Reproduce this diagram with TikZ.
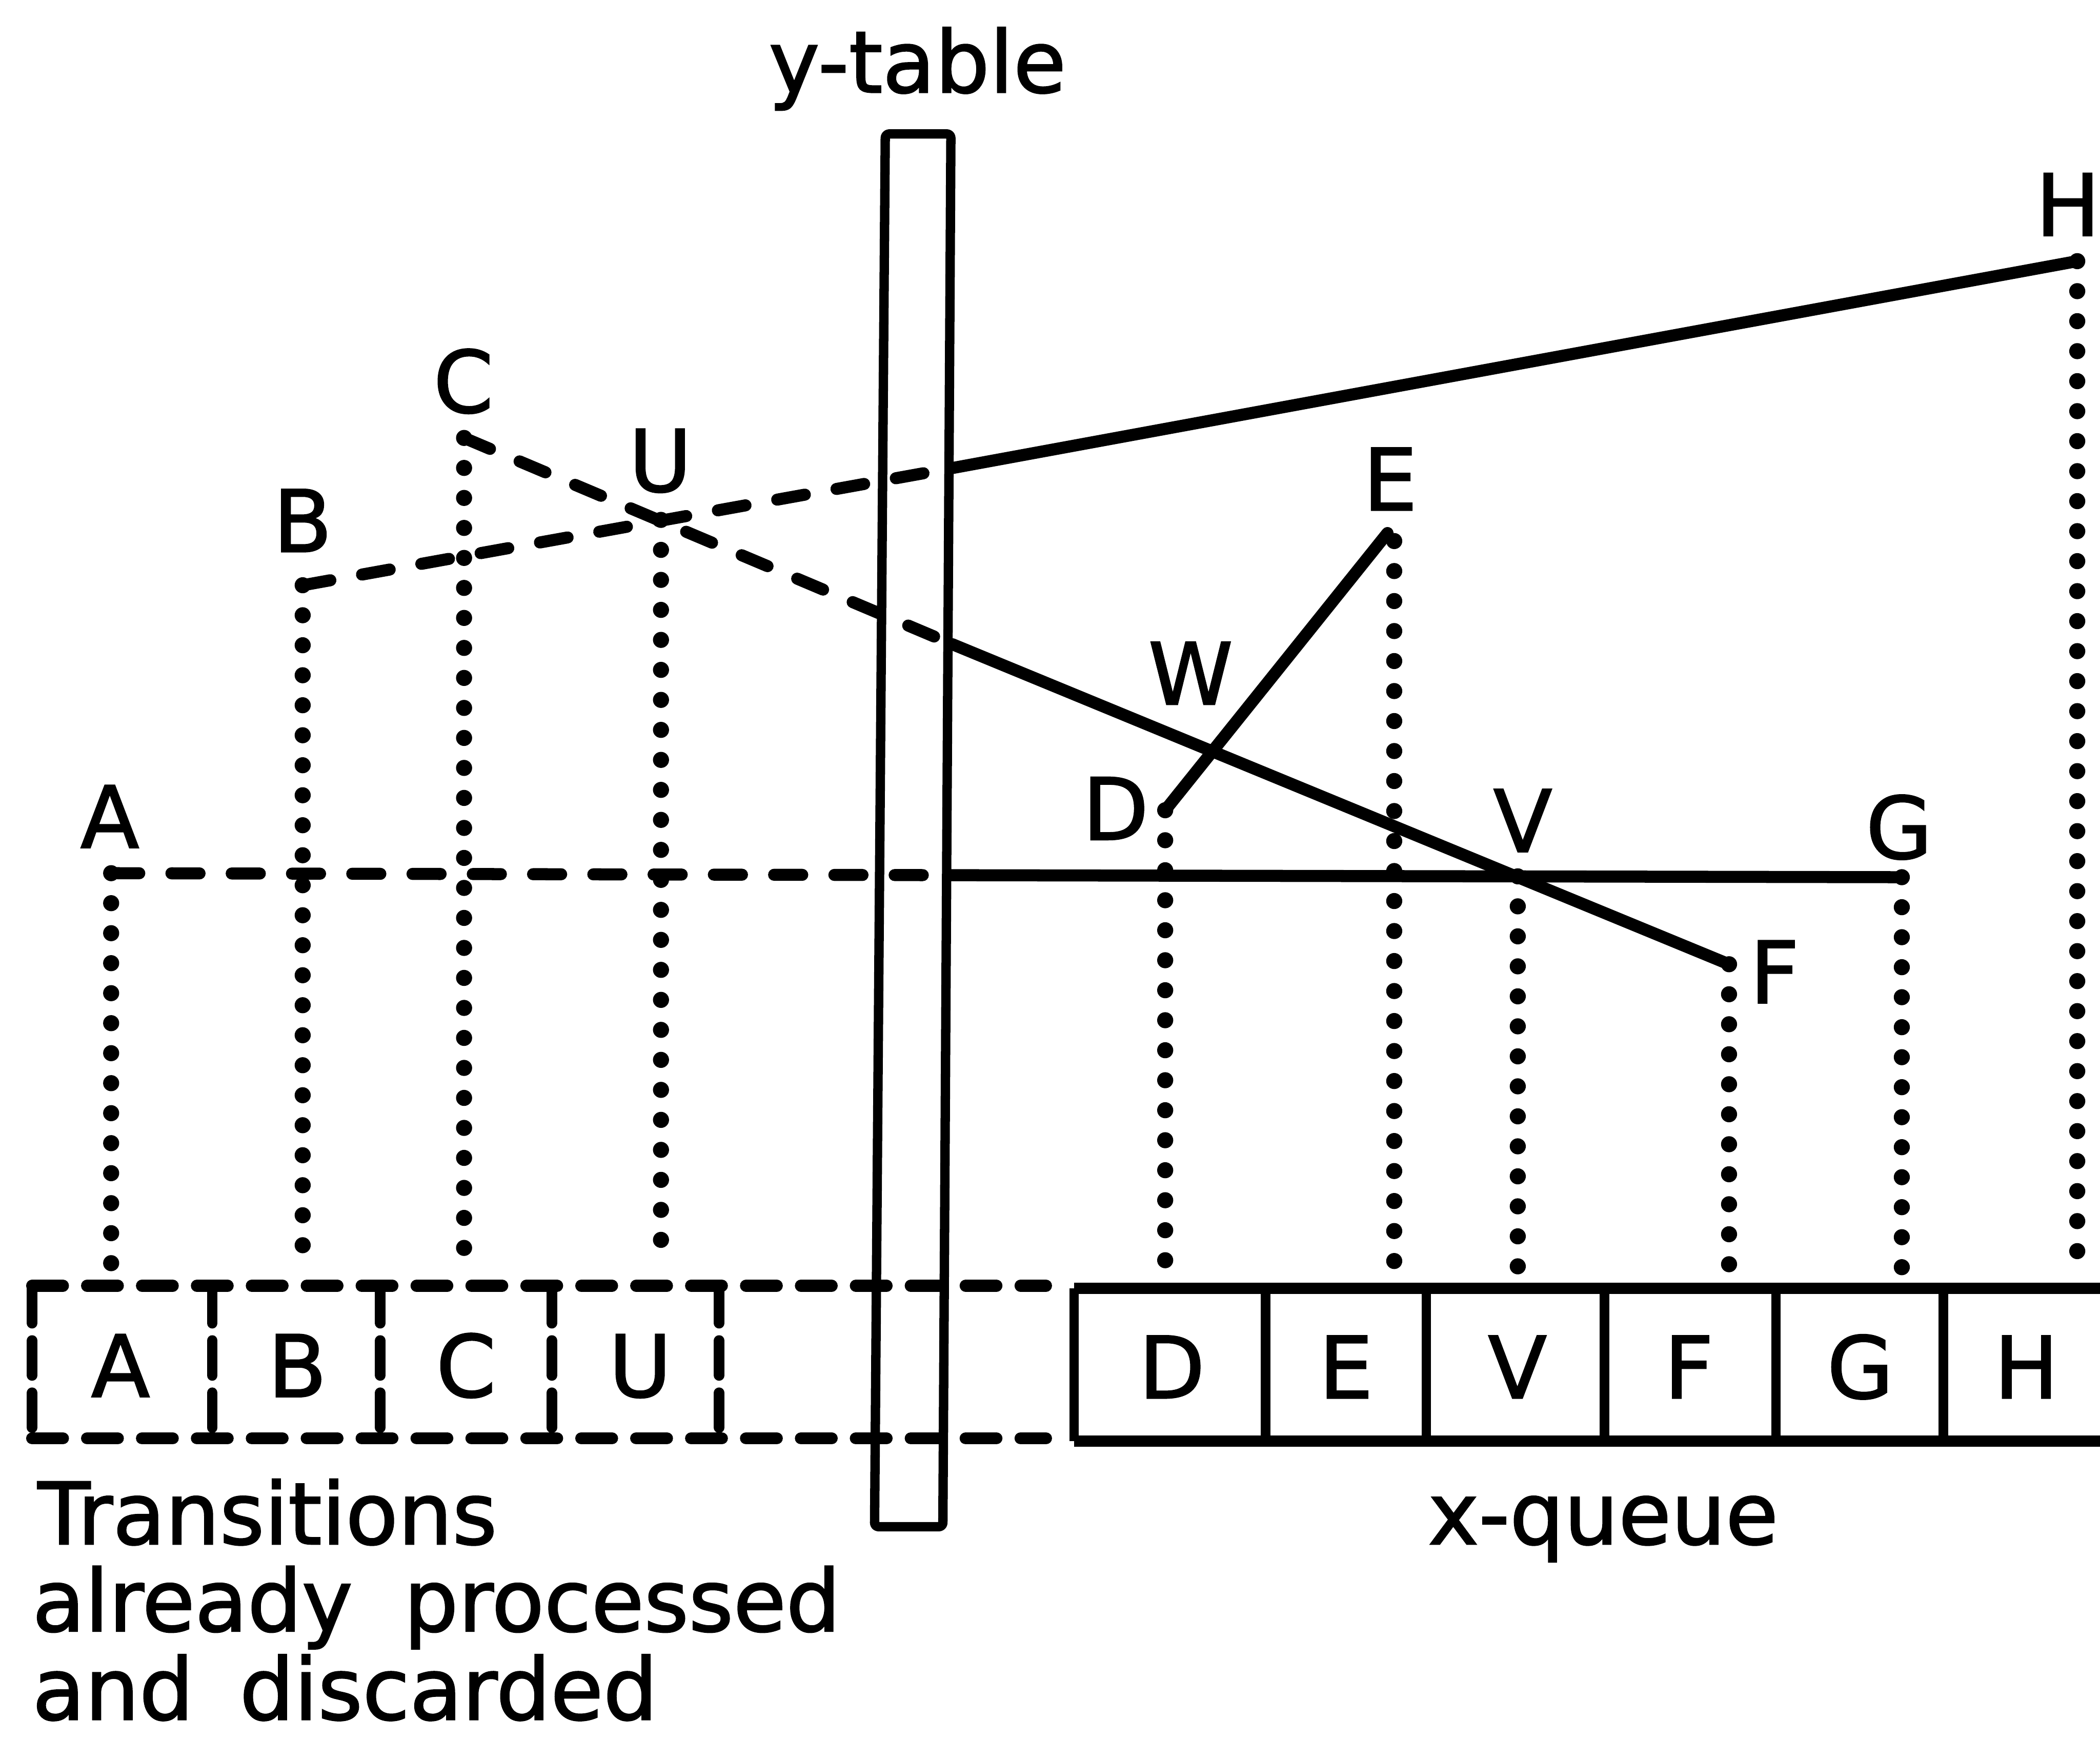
\documentclass[tikz,border=0pt]{standalone}
\usepackage{fontspec}
\newfontfamily\labfont[FakeBold=1.6]{DejaVu Sans}
\begin{document}
\begin{tikzpicture}[x=1pt,y=-1pt,
 solidln/.style={line width=9pt, line cap=round, line join=round},
 dashln/.style={line width=9pt, line cap=round, dash pattern=on 21pt off 24pt},
 dotln/.style={line width=12pt, line cap=round, dash pattern=on 0pt off 22.4pt},
 dashbox/.style={line width=9pt, line cap=round, dash pattern=on 23pt off 18pt},
 longdash/.style={line width=8pt, line cap=round, dash pattern=on 26pt off 13pt},
 barln/.style={line width=7pt, line join=round},
 qline/.style={line width=8.5pt},
 qdiv/.style={line width=7pt},
 lab/.style={font=\labfont\fontsize{64}{76}\selectfont, inner sep=0pt, anchor=base},
 txt/.style={font=\labfont\fontsize{64}{76}\selectfont, inner sep=0pt, anchor=base west},
]
\useasboundingbox (0,0) rectangle (1568,1299);
\clip (0,0) rectangle (1568,1299);

% points
\coordinate (pA) at (83,652);
\coordinate (pB) at (226,437);
\coordinate (pC) at (346.5,327);
\coordinate (pD) at (870,605);
\coordinate (pE) at (1036,398);
\coordinate (pF) at (1291,720);
\coordinate (pG) at (1420,655);
\coordinate (pH) at (1551,195);
\coordinate (bA) at (709,653.5);
\coordinate (bB) at (711,349.5);
\coordinate (bC) at (711,481);
\coordinate (pU) at (intersection of pB--pH and pC--pF);
\coordinate (pW) at (intersection of pD--pE and pC--pF);
\coordinate (pV) at (intersection of pC--pF and pA--pG);

% y-table bar (slightly tilted, as drawn)
\coordinate (ytl1) at (661,100);
\coordinate (ytl2) at (710,100);
\coordinate (ytl3) at (704,1140);
\coordinate (ytl4) at (653,1140);
\draw[barln, rounded corners=3pt] (ytl1) -- (ytl2) -- (ytl3) -- (ytl4) -- cycle;

% transition lines
\draw[dashln] (pA) -- (bA);
\draw[solidln] (bA) -- (pG);
\draw[dashln] (pB) -- (bB);
\draw[solidln] (bB) -- (pH);
\draw[dashln] (pC) -- (bC);
\draw[solidln] (bC) -- (pF);
\draw[solidln] (pD) -- (pE);

% dotted drops
\draw[dotln] (pA) -- (pA |- 0,948);
\draw[dotln] (pB) -- (pB |- 0,948);
\draw[dotln] (pC) -- (pC |- 0,946);
\draw[dotln] (pU) -- (pU |- 0,935);
\draw[dotln] (pD) -- (pD |- 0,946);
\draw[dotln] ([xshift=5pt,yshift=-6pt]pE) -- ([xshift=5pt]pE |- 0,948);
\draw[dotln] (pV) -- (pV |- 0,950);
\draw[dotln] (pF) -- (pF |- 0,946);
\draw[dotln] (pG) -- (pG |- 0,950);
\draw[dotln] (pH) -- (pH |- 0,955);

% point labels
\node[lab] (ytl) at (685,69) {y-table};
\node[lab] (lA) at (82,633) {A};
\node[lab] (lB) at (226,412) {B};
\node[lab] (lC) at (346,308) {C};
\node[lab] (lU) at (493,367) {U};
\node[lab] (lE) at (1038,381) {E};
\node[lab] (lW) at (889,526) {W};
\node[lab] (lD) at (833,627) {D};
\node[lab] (lV) at (1137,636) {V};
\node[lab] (lG) at (1418,641) {G};
\node[lab] (lF) at (1325,749) {F};
\node[lab] (lH) at (1544,176) {H};

% left (processed) boxes
\draw[dashbox] (24,960) -- (781,960);
\draw[dashbox] (24,1074) -- (781,1074);
\foreach \x in {24,158.5,284,412,537} \draw[longdash] (\x,962) -- (\x,1074);
\node[lab] (qA) at (90,1043) {A};
\node[lab] (qB) at (222,1043) {B};
\node[lab] (qC) at (348,1043) {C};
\node[lab] (qU) at (478,1043) {U};

% x-queue
\draw[qline] (802,962) -- (1600,962);
\draw[qline] (802,1076) -- (1600,1076);
\foreach \x in {802,945,1065,1198,1326,1451} \draw[qdiv] (\x,962) -- (\x,1076);
\node[lab] (xD) at (875,1044) {D};
\node[lab] (xE) at (1005,1044) {E};
\node[lab] (xV) at (1133,1044) {V};
\node[lab] (xF) at (1261,1044) {F};
\node[lab] (xG) at (1389,1044) {G};
\node[lab] (xH) at (1513,1044) {H};

\node[lab] (xq) at (1197,1153) {x-queue};
\node[txt] (t1) at (28,1153) {Transitions};
\node[txt] (t2) at (24,1218) {already\hspace{18pt} processed};
\node[txt] (t3) at (24,1284) {and\hspace{14pt} discarded};
\end{tikzpicture}
\end{document}
